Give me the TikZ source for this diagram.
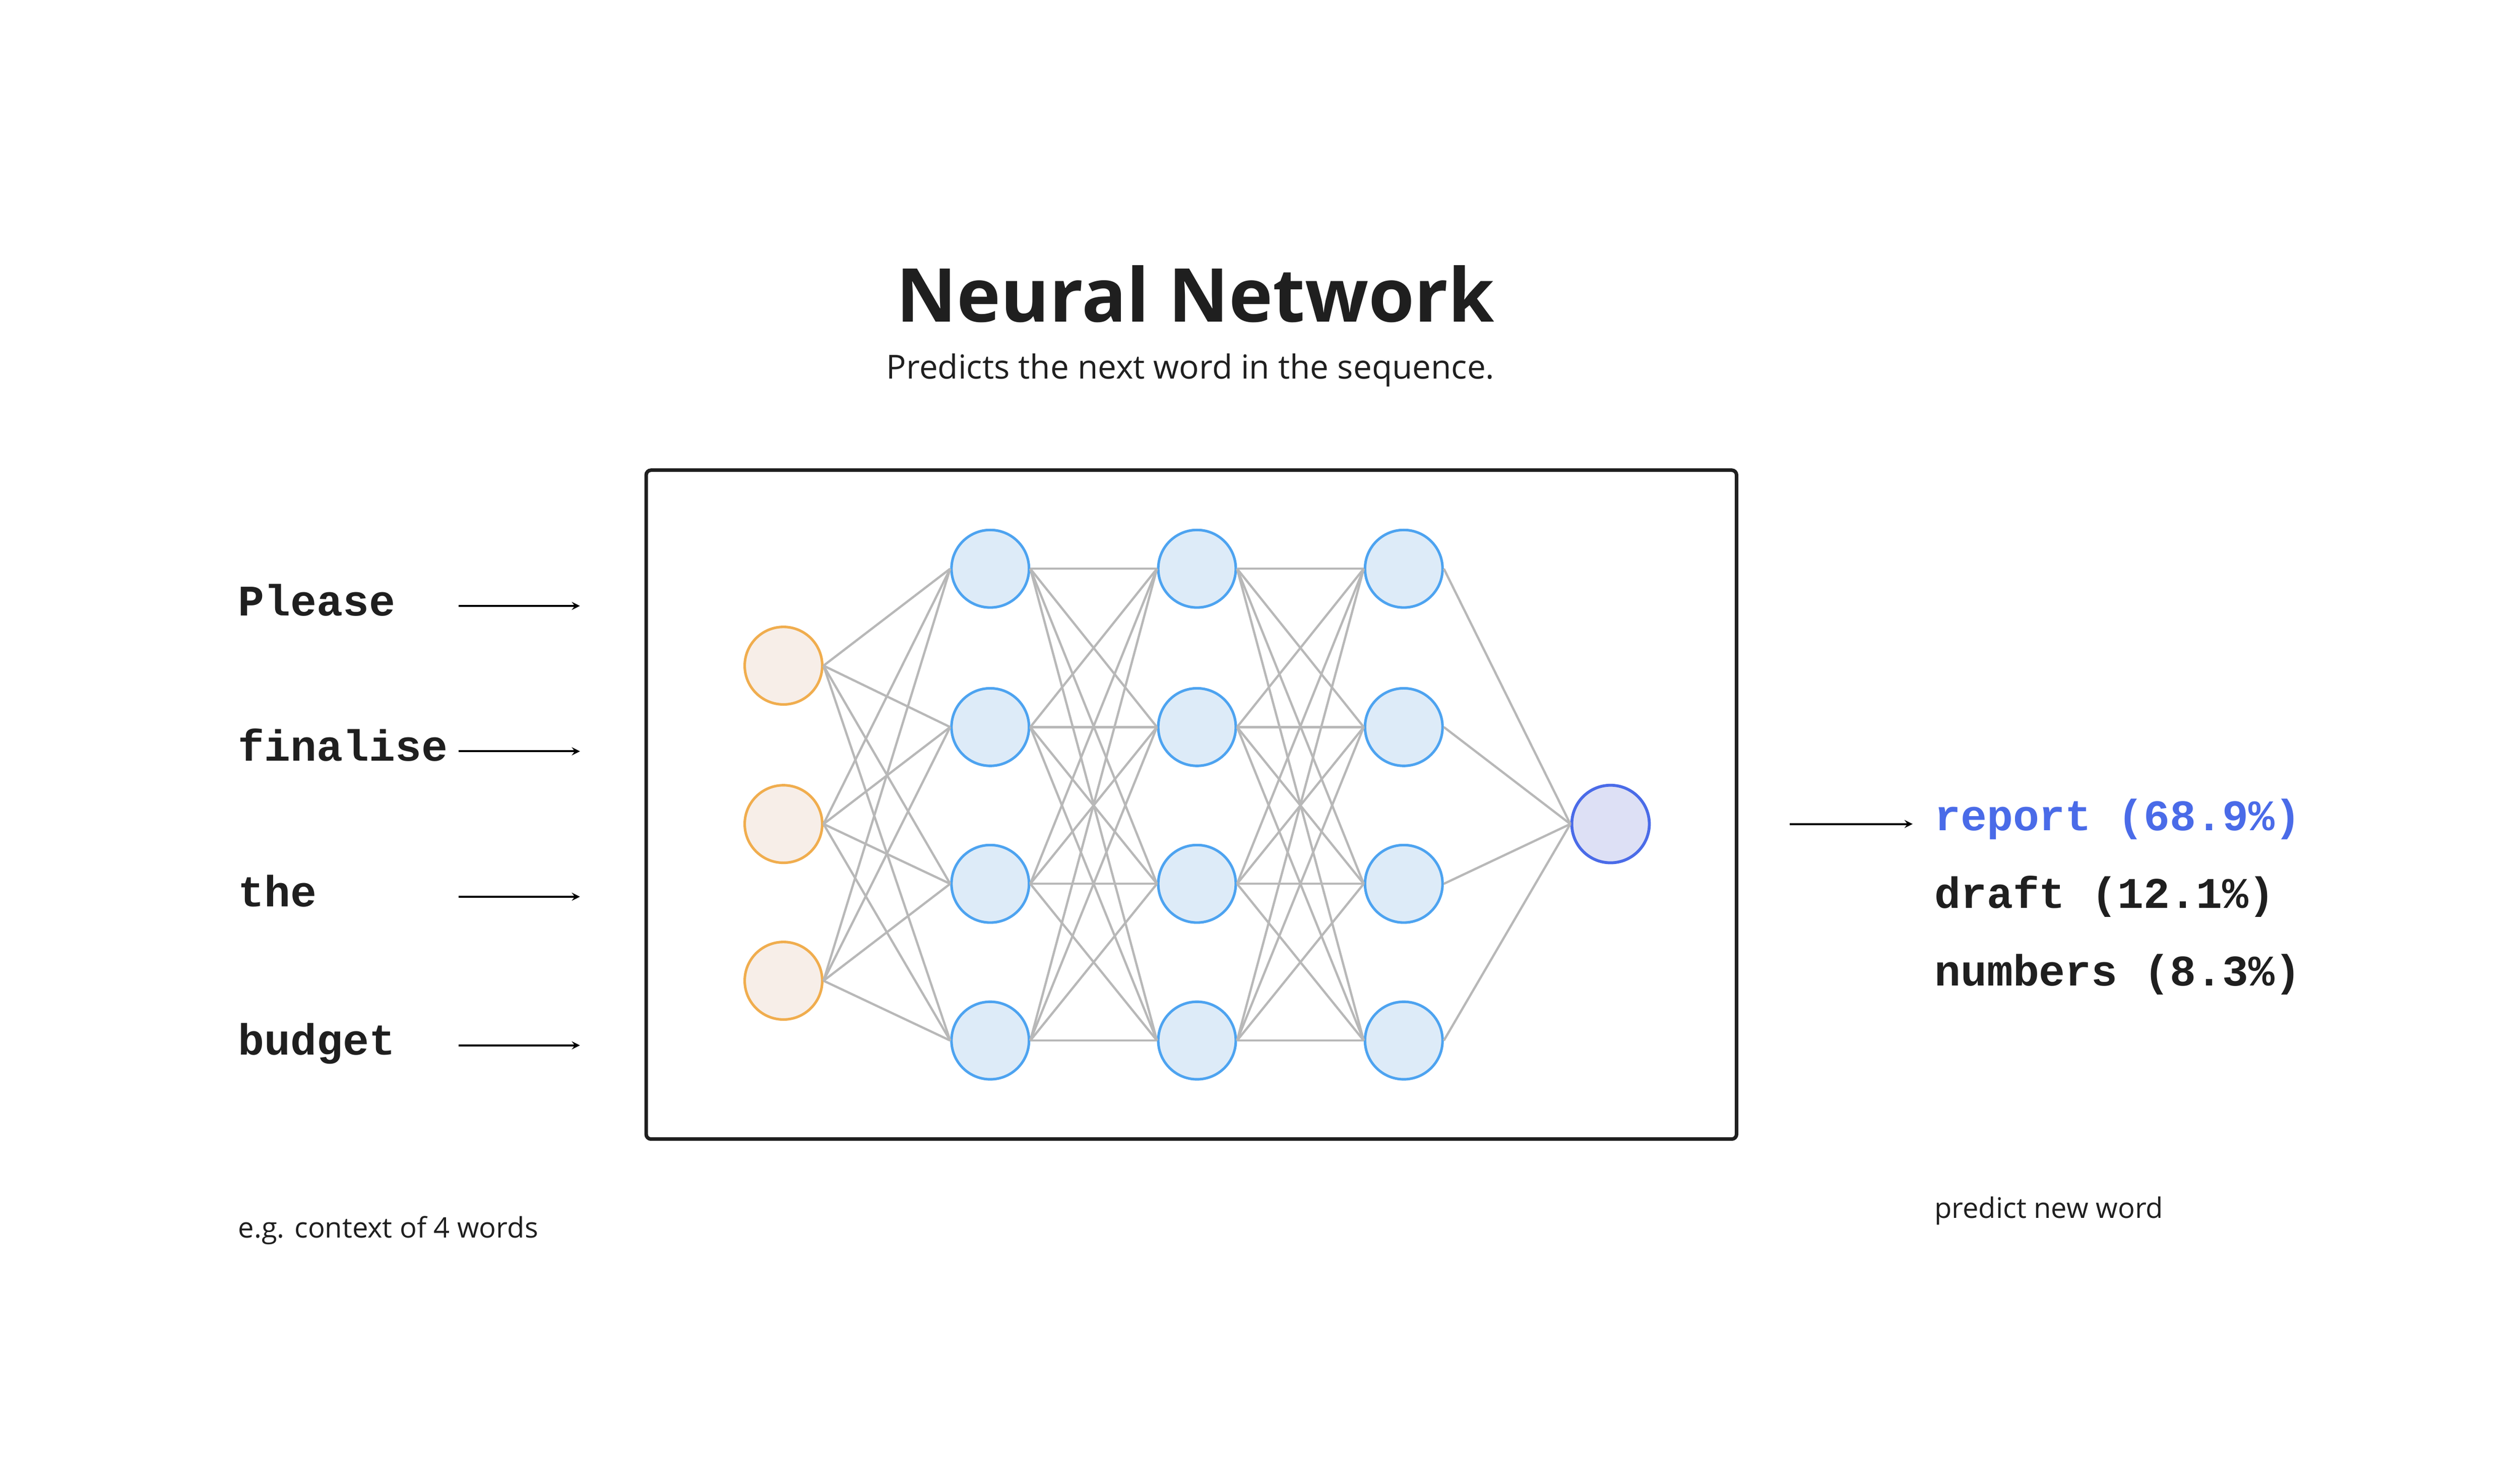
\documentclass[tikz,border=0pt]{standalone}
\usepackage{fontspec}
\setmainfont{Open Sans}
\setmonofont{Liberation Mono}
\begin{document}
\begin{tikzpicture}[x=1pt,y=-1pt,
  inp/.style={circle,line width=1.6pt,minimum size=48pt,inner sep=0},
  hid/.style={circle,line width=1.6pt,minimum size=48pt,inner sep=0},
  outn/.style={circle,line width=1.8pt,minimum size=48pt,inner sep=0},
  conn/.style={black!28,line width=1.4pt},
  word/.style={anchor=base west,font=\ttfamily\bfseries\fontsize{27}{30}\selectfont,text=black!88},
  captxt/.style={anchor=base west,font=\fontsize{17.5}{20}\selectfont,text=black!88},
  arr/.style={->,line width=1.2pt,>=stealth}]
\definecolor{orng}{HTML}{F0AD4E}
\definecolor{blu}{HTML}{4DA3F0}
\definecolor{bfill}{HTML}{DDEBF8}
\definecolor{ofill}{HTML}{F7EEE8}
\definecolor{rep}{HTML}{4A6BE8}
\definecolor{ofl}{HTML}{DDE0F5}
\useasboundingbox (0,0) rectangle (1560,914);
\node[font=\bfseries\fontsize{46}{52}\selectfont,text=black!88] (title) at (740,182) {Neural Network};
\node[font=\fontsize{20.5}{24}\selectfont,text=black!88] (sub) at (737,229) {Predicts the next word in the sequence.};
\draw[line width=2.2pt,rounded corners=3pt,black!88] (400,291) rectangle (1075,705);
\foreach \i/\y in {1/412,2/510,3/607}
  \node[inp,draw=orng,fill=ofill] (i\i) at (485,\y) {};
\foreach \l/\x in {1/613,2/741,3/869}
  \foreach \j/\y in {1/352,2/450,3/547,4/644}
    \node[hid,draw=blu,fill=bfill] (h\l\j) at (\x,\y) {};
\node[outn,draw=rep,fill=ofl] (o) at (997,510) {};
\foreach \i in {1,2,3} \foreach \j in {1,...,4} \draw[conn] (i\i.east) -- (h1\j.west);
\foreach \a in {1,...,4} \foreach \b in {1,...,4} {
  \draw[conn] (h1\a.east) -- (h2\b.west);
  \draw[conn] (h2\a.east) -- (h3\b.west);}
\foreach \a in {1,...,4} \draw[conn] (h3\a.east) -- (o.west);
\foreach \t/\y/\k in {Please/381/1,finalise/471/2,the/561/3,budget/653/4}{
  \node[word] (w\k) at (144,\y) {\t};
  \coordinate (s\k) at (284,\y-6);
  \coordinate (e\k) at (359,\y-6);
  \draw[arr] (s\k) -- (e\k);}
\coordinate (rs) at (1108,510);
\coordinate (re) at (1184,510);
\draw[arr] (rs) -- (re);
\node[word,text=rep] (r1) at (1194,514) {report (68.9\%)};
\node[word] (r2) at (1194,562) {draft (12.1\%)};
\node[word] (r3) at (1194,610) {numbers (8.3\%)};
\node[captxt] (c1) at (144,766) {e.g. context of 4 words};
\node[captxt] (c2) at (1194,754) {predict new word};
\end{tikzpicture}
\end{document}
